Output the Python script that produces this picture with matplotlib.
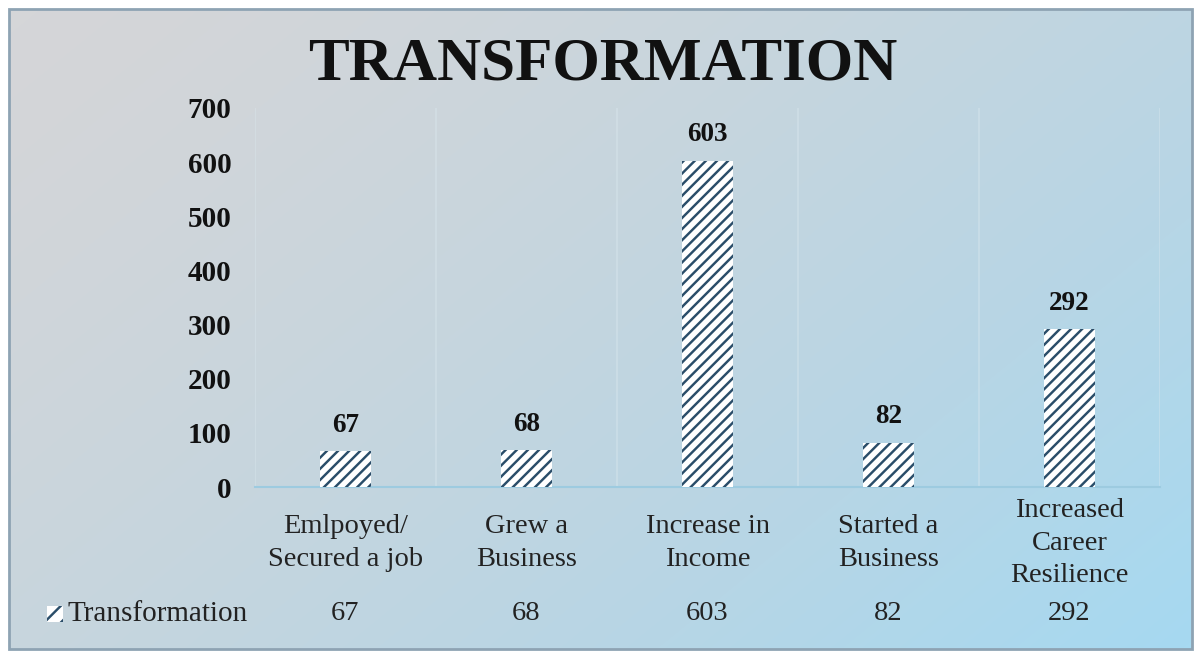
import numpy as np
import matplotlib
matplotlib.use("Agg")
import matplotlib.pyplot as plt
from matplotlib.patches import Rectangle
from matplotlib.colors import LinearSegmentedColormap

categories = ["Emlpoyed/\nSecured a job", "Grew a\nBusiness", "Increase in\nIncome",
              "Started a\nBusiness", "Increased\nCareer\nResilience"]
values = [67, 68, 603, 82, 292]
series_name = "Transformation"
title = "TRANSFORMATION"
yticks = [0, 100, 200, 300, 400, 500, 600, 700]

plt.rcParams['font.family'] = ['Liberation Serif', 'DejaVu Serif']
plt.rcParams['hatch.linewidth'] = 1.75

HATCH_COLOR = '#2a4d69'

W, H = 1197, 657
fig = plt.figure(figsize=(W / 100, H / 100), dpi=100)
fig.patch.set_facecolor('white')

# background gradient panel
bg = fig.add_axes([0, 0, 1, 1], zorder=0)
bg.set_xlim(0, W)
bg.set_ylim(H, 0)
bg.axis('off')
xx, yy = np.meshgrid(np.linspace(0, 1, 300), np.linspace(0, 1, 200))
t = np.clip(((0.6 * xx + 0.4 * yy)) ** 1.3, 0, 1)
cmap = LinearSegmentedColormap.from_list('g', ['#d5d6d8', '#c6d5de', '#b6d6e6', '#a6d9f1'])
bg.imshow(t, cmap=cmap, extent=[9, 1192, 649, 9], aspect='auto', interpolation='bilinear')
bg.add_patch(Rectangle((9, 9), 1183, 640, fill=False, edgecolor='#8ea3b3', linewidth=2.0))

# title
bg.text(603, 65, title, ha='center', va='center', fontsize=44, fontweight='bold', color='#111111')

# main axes
left, right = 255, 1160
top, bottom = 108, 487
ax = fig.add_axes([left / W, 1 - bottom / H, (right - left) / W, (bottom - top) / H], zorder=1)
ax.patch.set_alpha(0)
n = len(categories)
x = np.arange(n)
ax.bar(x, values, width=0.28, facecolor='white', edgecolor=HATCH_COLOR, linewidth=0,
       hatch='///', zorder=3)
ax.set_xlim(-0.5, n - 0.5)
ax.set_ylim(0, 700)
ax.set_yticks(yticks)
ax.set_yticklabels([str(v) for v in yticks], fontsize=21, fontweight='bold', color='#111111')
ax.tick_params(axis='y', length=0, pad=17)
ax.tick_params(axis='x', length=0)
ax.set_xticks([])
for s in ['top', 'right', 'left']:
    ax.spines[s].set_visible(False)
ax.spines['bottom'].set_color('#9dcbe0')
ax.spines['bottom'].set_linewidth(1.5)
for b in np.arange(-0.5, n, 1.0):
    ax.axvline(b, color='#dbe8ef', linewidth=1.2, zorder=1, alpha=0.45)

for xi, v in zip(x, values):
    ax.annotate(str(v), (xi, v), xytext=(0, 18.5), textcoords='offset points',
                ha='center', va='center', fontsize=19.5, fontweight='bold', color='#111111')

# category labels and data table
colw = (right - left) / n
for i, (c, v) in enumerate(zip(categories, values)):
    cx = left + colw * (i + 0.5)
    bg.text(cx, 543, c, ha='center', va='center',
            fontsize=20.5, color='#222222', linespacing=1.38)
    bg.text(cx, 614, str(v), ha='center', va='center', fontsize=20.5, color='#222222')

# legend key
bg.add_patch(Rectangle((47, 606), 16, 16, facecolor='white', edgecolor=HATCH_COLOR,
                       linewidth=0, hatch='//', zorder=3))
bg.text(68, 614, series_name, ha='left', va='center', fontsize=21, color='#222222')

fig.savefig('out.png', dpi=100, facecolor='white')
